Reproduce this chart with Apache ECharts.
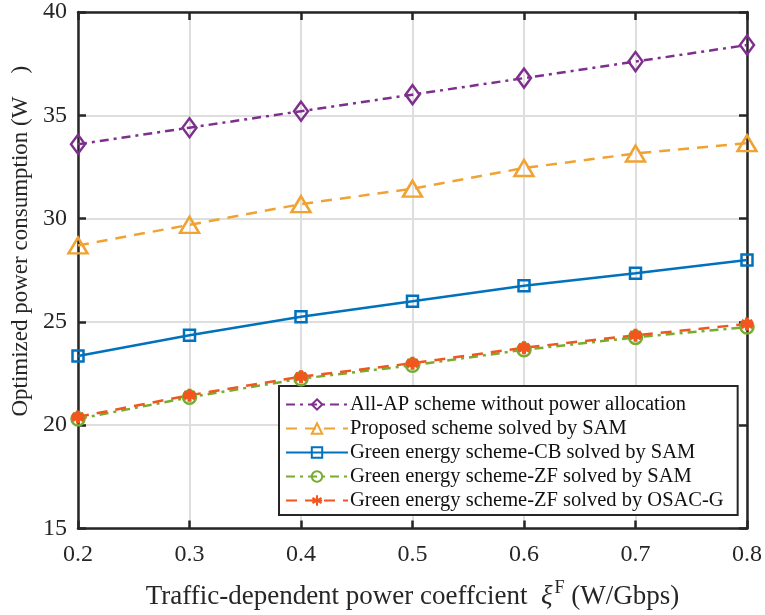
<!DOCTYPE html>
<html>
<head>
<meta charset="utf-8">
<script src="https://cdn.jsdelivr.net/npm/echarts@6/dist/echarts.min.js"></script>
<style>
  html, body { margin: 0; padding: 0; background: #fff; }
  #chart { width: 765px; height: 615px; }
</style>
</head>
<body>
<div id="chart"></div>
<script>
// Traffic-dependent power coefficient values (W/Gbps)
const xiValues = ['0.2', '0.3', '0.4', '0.5', '0.6', '0.7', '0.8'];

// Optimized power consumption (W) for each scheme
const allApNoAlloc   = [33.6, 34.4, 35.2, 36.0, 36.8, 37.6, 38.4];
const proposedSam    = [28.7, 29.7, 30.7, 31.45, 32.45, 33.15, 33.65];
const greenCbSam     = [23.35, 24.35, 25.25, 26.0, 26.75, 27.35, 28.0];
const greenZfSam     = [20.3, 21.35, 22.25, 22.9, 23.65, 24.25, 24.75];
const greenZfOsacG   = [20.4, 21.45, 22.35, 23.0, 23.75, 24.35, 24.9];

const seriesNames = [
  'All-AP scheme without power allocation',
  'Proposed scheme solved by SAM',
  'Green energy scheme-CB solved by SAM',
  'Green energy scheme-ZF solved by SAM',
  'Green energy scheme-ZF solved by OSAC-G'
];

const FONT = '"Liberation Serif", "Times New Roman", serif';
const INK = '#262626';
const asterisk = 'path://M0,-10L0,10M-8.66,-5L8.66,5M-8.66,5L8.66,-5M-10,0L10,0';

// Hollow markers: transparent fill, coloured outline
function lineSeries(name, data, color, dash, symbol, size, extra) {
  return Object.assign({
    name: name,
    type: 'line',
    data: data,
    symbol: symbol,
    symbolSize: size,
    showAllSymbol: true,
    lineStyle: { color: color, width: 2.5, type: dash },
    itemStyle: { color: 'rgba(255,255,255,0)', borderColor: color, borderWidth: 2.5 },
    emphasis: { disabled: true },
    z: 5
  }, extra || {});
}

const chart = echarts.init(document.getElementById('chart'), null, { renderer: 'canvas' });

const axisLine = { show: true, lineStyle: { color: INK, width: 2.5 } };
const axisTick = { show: true, inside: true, length: 8, lineStyle: { color: INK, width: 2.5 } };

chart.setOption({
  animation: false,
  backgroundColor: '#fff',
  textStyle: { fontFamily: FONT },
  grid: { left: 78, right: 15, top: 11, bottom: 84, containLabel: false },
  legend: {
    orient: 'vertical',
    left: 279,
    top: 386,
    padding: [8, 14, 4, 6],
    itemGap: 3,
    itemWidth: 62,
    itemHeight: 13,
    backgroundColor: '#fff',
    borderColor: INK,
    borderWidth: 2,
    borderRadius: 0,
    textStyle: { fontFamily: FONT, fontSize: 20.5, color: '#111', padding: [0, 0, 0, -3] },
    data: seriesNames
  },
  xAxis: [
    {
      type: 'category',
      data: xiValues,
      boundaryGap: false,
      axisLine: axisLine,
      axisTick: axisTick,
      axisLabel: { fontFamily: FONT, fontSize: 24, color: INK, margin: 14 },
      splitLine: { show: true, lineStyle: { color: '#dedede', width: 2 } },
      name: '{t|Traffic-dependent power coeffcient  }{xi|ξ}{sup|F}{t| (W/Gbps)}',
      nameLocation: 'middle',
      nameGap: 51,
      nameTextStyle: {
        rich: {
          t: { fontFamily: FONT, fontSize: 27, color: INK },
          xi: { fontFamily: FONT, fontSize: 27, fontStyle: 'italic', color: INK },
          sup: { fontFamily: FONT, fontSize: 18, color: INK, verticalAlign: 'top', padding: [0, 0, 16, 2] }
        }
      }
    },
    {
      type: 'category',
      data: xiValues,
      boundaryGap: false,
      position: 'top',
      axisLine: axisLine,
      axisTick: axisTick,
      axisLabel: { show: false },
      splitLine: { show: false }
    }
  ],
  yAxis: [
    {
      type: 'value',
      min: 15,
      max: 40,
      interval: 5,
      axisLine: axisLine,
      axisTick: axisTick,
      axisLabel: { fontFamily: FONT, fontSize: 24, color: INK, margin: 11 },
      splitLine: { show: true, lineStyle: { color: '#dedede', width: 2 } },
      name: 'Optimized power consumption (W    )',
      nameLocation: 'middle',
      nameGap: 42,
      nameTextStyle: { fontFamily: FONT, fontSize: 23, color: INK, padding: [0, 0, 0, 58] }
    },
    {
      type: 'value',
      min: 15,
      max: 40,
      interval: 5,
      position: 'right',
      axisLine: axisLine,
      axisTick: axisTick,
      axisLabel: { show: false },
      splitLine: { show: false }
    }
  ],
  series: [
    lineSeries(seriesNames[0], allApNoAlloc, '#7E2F8E', [9, 5, 3, 5], 'diamond', [14, 19]),
    lineSeries(seriesNames[1], proposedSam, '#F0A232', [11, 8], 'triangle', [19, 16]),
    lineSeries(seriesNames[2], greenCbSam, '#0072BD', 'solid', 'rect', 11),
    lineSeries(seriesNames[3], greenZfSam, '#77AC30', [9, 5, 3, 5], 'circle', 13),
    lineSeries(seriesNames[4], greenZfOsacG, '#F0561E', [11, 8], asterisk, 13, {
      itemStyle: { color: '#F0561E', borderColor: '#F0561E', borderWidth: 4 }
    })
  ]
});
</script>
</body>
</html>
